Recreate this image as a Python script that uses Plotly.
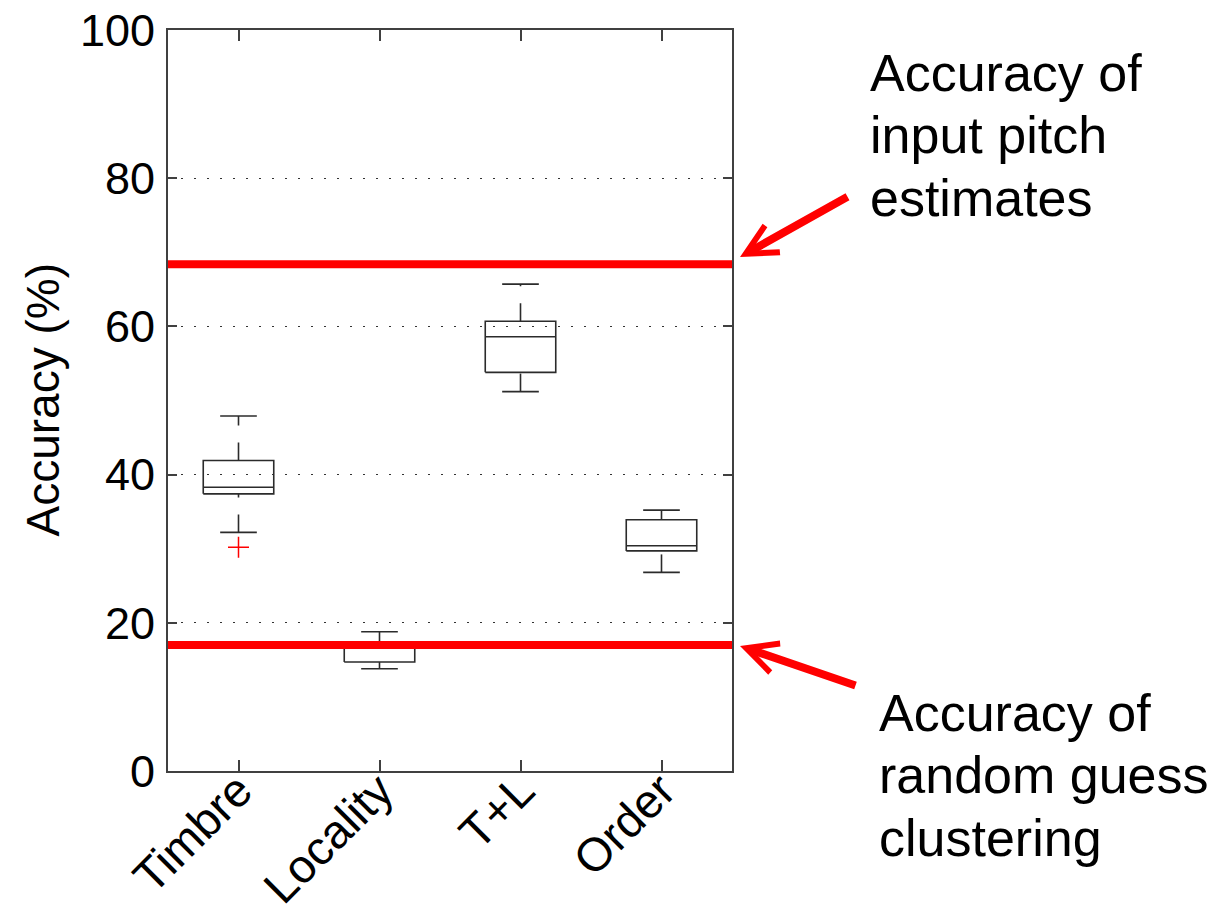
import plotly.graph_objects as go

# Clustering accuracy per feature set (percent)
categories = ["Timbre", "Locality", "T+L", "Order"]
whisker_low = [32.2, 13.8, 51.2, 26.8]
q1 = [37.4, 14.7, 53.8, 29.7]
median = [38.3, 17.0, 58.6, 30.4]
q3 = [41.9, 17.4, 60.7, 33.9]
whisker_high = [47.9, 18.8, 65.7, 35.2]
outlier_cat = [1]
outlier_val = [30.2]

# Reference accuracy levels
input_pitch_acc = 68.4
random_guess_acc = 17.0

FONT = "Arial, Liberation Sans, sans-serif"
BOX_COLOR = "#2b2b2b"
HALF_BOX = 0.25
HALF_CAP = 0.13

positions = list(range(1, len(categories) + 1))

box_x, box_y = [], []
med_x, med_y = [], []
cap_x, cap_y = [], []
up_x, up_y = [], []
lo_x, lo_y = [], []
for p, lw, a, m, b, hw in zip(positions, whisker_low, q1, median, q3, whisker_high):
    box_x += [p - HALF_BOX, p + HALF_BOX, p + HALF_BOX, p - HALF_BOX, p - HALF_BOX, None]
    box_y += [a, a, b, b, a, None]
    med_x += [p - HALF_BOX, p + HALF_BOX, None]
    med_y += [m, m, None]
    cap_x += [p - HALF_CAP, p + HALF_CAP, None, p - HALF_CAP, p + HALF_CAP, None]
    cap_y += [lw, lw, None, hw, hw, None]
    up_x += [p, p, None]
    up_y += [b, hw, None]
    lo_x += [p, p, None]
    lo_y += [lw, a, None]

fig = go.Figure()
line_style = dict(color=BOX_COLOR, width=1.6)
fig.add_trace(go.Scatter(x=lo_x, y=lo_y, mode="lines",
                         line=dict(color=BOX_COLOR, width=1.6, dash="18px,17px")))
fig.add_trace(go.Scatter(x=up_x, y=up_y, mode="lines",
                         line=dict(color=BOX_COLOR, width=1.6, dash="18px,17px")))
fig.add_trace(go.Scatter(x=box_x, y=box_y, mode="lines", line=line_style))
fig.add_trace(go.Scatter(x=med_x, y=med_y, mode="lines", line=line_style))
fig.add_trace(go.Scatter(x=cap_x, y=cap_y, mode="lines", line=line_style))
fig.add_trace(go.Scatter(x=outlier_cat, y=outlier_val, mode="markers",
                         marker=dict(symbol="cross-thin", size=15,
                                     line=dict(color="red", width=1.5))))

# Thick red reference levels
for level in (input_pitch_acc, random_guess_acc):
    fig.add_shape(type="line", xref="paper", x0=0, x1=1, yref="y", y0=level, y1=level,
                  line=dict(color="red", width=8), layer="above")

# Callout texts
def add_block(lines, x, centers):
    for txt, yc in zip(lines, centers):
        fig.add_annotation(text=txt, xref="paper", x=x, xanchor="left",
                           yref="paper", y=yc, yanchor="middle",
                           showarrow=False, font=dict(family=FONT, size=52, color="black"))

PLOT_TOP, PLOT_BOTTOM, PLOT_LEFT, PLOT_W = 30.0, 771.0, 168.0, 564.0
def py(v):
    return (PLOT_BOTTOM - v) / (PLOT_BOTTOM - PLOT_TOP)
def px(v):
    return (v - PLOT_LEFT) / PLOT_W

add_block(["Accuracy of", "input pitch", "estimates"], px(868),
          [py(90 - 17), py(152.5 - 17), py(215 - 17)])
add_block(["Accuracy of", "random guess", "clustering"], px(877),
          [py(730 - 17), py(792 - 17), py(855 - 17)])

# Arrows pointing at the red levels
arrow_common = dict(text="", showarrow=True, arrowhead=5, arrowsize=0.75, arrowwidth=8,
                    arrowcolor="red", xref="paper", yref="paper", axref="pixel", ayref="pixel")
fig.add_annotation(x=px(740), y=py(257), ax=109, ay=-61, **arrow_common)
fig.add_annotation(x=px(740), y=py(646), ax=117, ay=40, **arrow_common)

# Y axis title
fig.add_annotation(text="Accuracy (%)", textangle=-90, xref="paper", x=px(42), xanchor="center",
                   yref="paper", y=0.5, yanchor="middle", showarrow=False,
                   font=dict(family=FONT, size=46, color="black"))

fig.update_layout(
    width=1222, height=911,
    margin=dict(l=168, r=490, t=30, b=140, pad=0),
    paper_bgcolor="white", plot_bgcolor="white",
    showlegend=False,
    font=dict(family=FONT, color="black"),
    xaxis=dict(range=[0.5, 4.5], tickvals=positions, ticktext=categories,
               tickangle=-45, ticks="inside", ticklen=11, tickcolor="#404040", tickwidth=2,
               showline=True, linecolor="#404040", linewidth=2, mirror="ticks",
               showgrid=False, zeroline=False, automargin=False, ticklabelstandoff=-29,
               tickfont=dict(family=FONT, size=47, color="black")),
    yaxis=dict(range=[0, 100], tickvals=[0, 20, 40, 60, 80, 100],
               ticks="inside", ticklen=9, tickcolor="#404040", tickwidth=2,
               showline=True, linecolor="#404040", linewidth=2, mirror="ticks",
               showgrid=True, gridcolor="#333333", gridwidth=1, griddash="2px,11px",
               zeroline=False, ticklabelstandoff=2, automargin=False,
               tickfont=dict(family=FONT, size=45, color="black")),
)

fig.write_html("out.html")
